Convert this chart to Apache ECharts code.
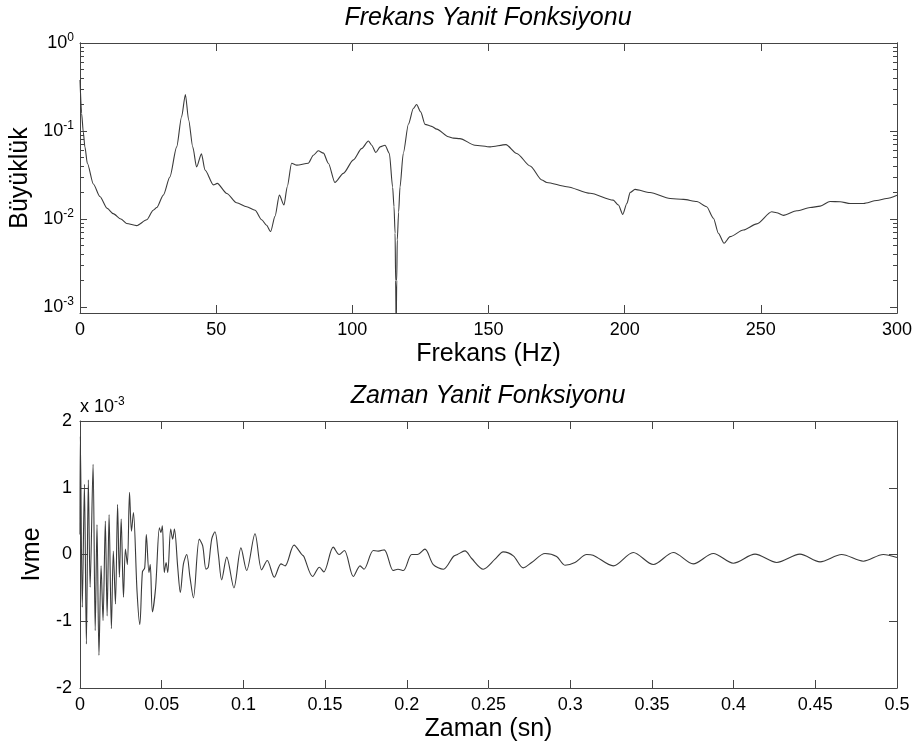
<!DOCTYPE html>
<html>
<head>
<meta charset="utf-8">
<script src="https://cdn.jsdelivr.net/npm/echarts@6/dist/echarts.min.js"></script>
<style>
    html, body { margin: 0; padding: 0; background: #fff; }
    #chart { width: 914px; height: 747px; }
</style>
</head>
<body>
<div id="chart"></div>
<script>
// frekans yaniti (Hz, buyukluk)
const freqHz = [0, 0.6, 1.2, 1.8, 2.7, 4.9, 7.3, 10, 12.2, 15, 17.1, 20.8, 24.5, 26.9, 28.2, 30.6, 33, 35.5, 37.3, 38.7,
    39.9, 41.4, 42.8, 44.6, 45.9, 49, 50.4, 53.9, 57.5, 61.2, 64.3, 66.7, 68.5, 70, 71.6, 73.2, 74.9, 76.1, 77.7, 79.6,
    83.8, 85.7, 87.5, 89.4, 91.2, 93.6, 96.7, 100.4, 103.4, 105.9, 107.1, 108.6, 110.2, 112, 113.6, 114.8, 115.3, 115.7, 115.9, 116.1,
    116.3, 116.5, 117, 117.5, 118.7, 120.6, 122.4, 123.6, 125.1, 126.7, 129.1, 131, 135.3, 137.1, 139.5, 145, 150.6, 156.4, 160.4, 165.3,
    169.6, 171.4, 178.7, 187.3, 195.8, 197.7, 199.3, 200.8, 202, 203.8, 209.3, 216.7, 221.6, 226.5, 230.1, 232.6, 234.4, 236.5, 238.7, 243.6,
    248.5, 254, 255.8, 258.3, 263.2, 268.1, 271.8, 275.4, 279.1, 282.8, 287.7, 292.6, 296.2, 300];
const magnitude = [0.38, 0.158, 0.098, 0.066, 0.043, 0.025, 0.018, 0.0132, 0.0115, 0.0100, 0.0089, 0.0084, 0.0098, 0.0126, 0.0135, 0.0187, 0.030, 0.066, 0.145, 0.26,
    0.133, 0.066, 0.039, 0.055, 0.036, 0.0244, 0.0254, 0.0195, 0.0153, 0.0138, 0.0126, 0.0098, 0.0085, 0.0072, 0.0107, 0.0187, 0.0144, 0.0233, 0.043, 0.041,
    0.043, 0.053, 0.0596, 0.056, 0.043, 0.026, 0.033, 0.047, 0.063, 0.077, 0.069, 0.057, 0.066, 0.069, 0.0556, 0.023, 0.0138, 0.0069, 0.002, 0.0005,
    0.002, 0.0058, 0.012, 0.023, 0.0556, 0.12, 0.18, 0.20, 0.165, 0.119, 0.113, 0.105, 0.086, 0.083, 0.082, 0.069, 0.066, 0.070, 0.0556, 0.040,
    0.0277, 0.026, 0.0233, 0.0196, 0.0164, 0.0144, 0.0113, 0.015, 0.020, 0.0217, 0.020, 0.0171, 0.0167, 0.0158, 0.0138, 0.0102, 0.0069, 0.0053, 0.0063, 0.0075,
    0.0088, 0.0121, 0.0118, 0.011, 0.0124, 0.0135, 0.014, 0.0158, 0.0157, 0.015, 0.015, 0.0162, 0.0171, 0.0186];

// zaman yaniti (sn, ivme x 10^-3)
const timeSec = [0, 0.0002, 0.0014, 0.0027, 0.0039, 0.0051, 0.0062, 0.0080, 0.0093, 0.0104, 0.0116, 0.0129, 0.0141, 0.0155, 0.0166, 0.0178, 0.0192, 0.0204, 0.0217, 0.0230,
    0.0241, 0.0252, 0.0266, 0.0278, 0.0290, 0.0303, 0.0315, 0.0327, 0.0349, 0.0366, 0.0382, 0.0396, 0.0406, 0.0422, 0.0430, 0.0443, 0.0463, 0.0486, 0.0495, 0.0504,
    0.0516, 0.0527, 0.0537, 0.0555, 0.0567, 0.0578, 0.0598, 0.0614, 0.0633, 0.0653, 0.0673, 0.0694, 0.0730, 0.0751, 0.0771, 0.0785, 0.0806, 0.0826, 0.0847, 0.0867,
    0.0898, 0.0942, 0.0985, 0.1020, 0.1071, 0.1112, 0.1146, 0.1189, 0.1230, 0.1255, 0.1310, 0.1357, 0.1370, 0.1424, 0.1465, 0.1492, 0.1550, 0.1586, 0.1618, 0.1673,
    0.1714, 0.1738, 0.1795, 0.1825, 0.1862, 0.1917, 0.1946, 0.1979, 0.2030, 0.2065, 0.2111, 0.2162, 0.2224, 0.2285, 0.2310, 0.2356, 0.2397, 0.2468, 0.2540, 0.2590,
    0.2652, 0.2713, 0.2764, 0.2846, 0.2917, 0.2968, 0.3029, 0.3101, 0.3140, 0.3264, 0.3386, 0.3509, 0.3631, 0.3753, 0.3876, 0.3998, 0.4131, 0.4264, 0.4406, 0.4529,
    0.4661, 0.4794, 0.4916, 0.5];
const accel = [0.3, 1.77, -0.79, 1.05, -1.34, 1.12, -0.49, 1.35, -1.14, 0.45, -1.51, -0.17, -0.99, 0.50, -0.92, 0.60, -1.11, 0.05, -0.74, 0.75,
    -0.34, 0.53, -0.64, 0.08, -0.15, 0.93, 0.35, 0.63, -0.55, -1.05, -0.26, -0.20, 0.30, -0.27, -0.15, -0.86, -0.49, 0.40, 0.33, 0.43,
    -0.27, -0.12, -0.27, 0.38, 0.23, 0.38, -0.19, -0.57, -0.14, 0.0, -0.34, -0.65, 0.23, 0.13, -0.22, -0.19, 0.23, 0.34, 0.0, -0.38,
    -0.04, -0.50, 0.10, -0.24, 0.31, -0.23, -0.09, -0.34, -0.14, -0.17, 0.14, 0.0, -0.03, -0.33, -0.19, -0.26, 0.11, 0.0, 0.06, -0.33,
    -0.17, -0.22, 0.06, 0.05, 0.07, -0.24, -0.22, -0.24, 0.0, 0.0, 0.08, -0.15, -0.22, -0.03, 0.0, 0.055, -0.06, -0.22, -0.07, 0.04,
    -0.02, -0.20, -0.12, 0.015, -0.03, -0.16, -0.12, 0.0, -0.01, -0.17, 0.03, -0.15, 0.03, -0.14, 0.015, -0.13, 0.005, -0.12, 0.005, -0.11,
    0.0, -0.10, 0.0, -0.045];

// eksen isaretleri
const logMajorTicks = [0.001, 0.01, 0.1, 1];
const logMinorTicks = [0.002, 0.003, 0.004, 0.005, 0.006, 0.007, 0.008, 0.009,
    0.02, 0.03, 0.04, 0.05, 0.06, 0.07, 0.08, 0.09,
    0.2, 0.3, 0.4, 0.5, 0.6, 0.7, 0.8, 0.9];

let chart = echarts.init(document.getElementById('chart'));
let font = 'Liberation Sans, Arial, Helvetica, sans-serif';
let axisColor = '#444';

function logLabel(v) {
    return '10{sup|' + Math.round(Math.log10(v)) + '}';
}

function frameX(gridIndex, pos, min, max, interval, name) {
    return {
        gridIndex: gridIndex, type: 'value', position: pos,
        min: min, max: max, interval: interval,
        axisLine: {show: true, onZero: false, lineStyle: {color: axisColor, width: 1}},
        axisTick: {show: true, inside: true, length: 8, lineStyle: {color: axisColor}},
        axisLabel: {show: pos === 'bottom', color: '#000', fontSize: 18, fontFamily: font, margin: 8},
        splitLine: {show: false},
        name: pos === 'bottom' ? name : '',
        nameLocation: 'middle', nameGap: 29,
        nameTextStyle: {fontSize: 25, fontFamily: font, color: '#000'}
    };
}

function logY(pos, ticks, len, labels) {
    return {
        gridIndex: 0, type: 'log', logBase: 10, position: pos,
        min: 0.000855, max: 1,
        axisLine: {show: true, onZero: false, lineStyle: {color: axisColor, width: 1}},
        axisTick: {show: true, inside: true, length: len, customValues: ticks, lineStyle: {color: axisColor}},
        axisLabel: {
            show: labels, customValues: ticks, formatter: logLabel,
            color: '#000', fontSize: 18, fontFamily: font, margin: 6,
            rich: {sup: {fontSize: 12, fontFamily: font, color: '#000', verticalAlign: 'bottom', padding: [0, 0, 10, 0]}}
        },
        splitLine: {show: false},
        minorTick: {show: false},
        name: labels ? 'Büyüklük' : '',
        nameLocation: 'middle', nameGap: 42,
        nameTextStyle: {fontSize: 25, fontFamily: font, color: '#000'}
    };
}

let option = {
    animation: false,
    backgroundColor: '#fff',
    title: [{
        text: 'Frekans Yanit Fonksiyonu', left: 488, top: 6, textAlign: 'center', padding: 0,
        textStyle: {fontSize: 25, fontStyle: 'italic', fontWeight: 'normal', fontFamily: font, color: '#000'}
    }, {
        text: 'Zaman Yanit Fonksiyonu', left: 488, top: 384, textAlign: 'center', padding: 0,
        textStyle: {fontSize: 25, fontStyle: 'italic', fontWeight: 'normal', fontFamily: font, color: '#000'}
    }],
    grid: [
        {left: 80, top: 43, width: 817, height: 270, outerBoundsMode: 'none', containLabel: false},
        {left: 80, top: 421, width: 817, height: 267, outerBoundsMode: 'none', containLabel: false}
    ],
    xAxis: [
        frameX(0, 'bottom', 0, 300, 50, 'Frekans (Hz)'),
        frameX(0, 'top', 0, 300, 50, ''),
        frameX(1, 'bottom', 0, 0.5, 0.05, 'Zaman (sn)'),
        frameX(1, 'top', 0, 0.5, 0.05, '')
    ],
    yAxis: [
        logY('left', logMajorTicks, 7, true),
        logY('left', logMinorTicks, 4, false),
        logY('right', logMajorTicks, 7, false),
        logY('right', logMinorTicks, 4, false),
        {
            gridIndex: 1, type: 'value', position: 'left', min: -2, max: 2, interval: 1,
            axisLine: {show: true, onZero: false, lineStyle: {color: axisColor, width: 1}},
            axisTick: {show: true, inside: true, length: 8, lineStyle: {color: axisColor}},
            axisLabel: {color: '#000', fontSize: 18, fontFamily: font, margin: 8},
            splitLine: {show: false},
            name: 'Ivme', nameLocation: 'middle', nameGap: 33,
            nameTextStyle: {fontSize: 25, fontFamily: font, color: '#000'}
        },
        {
            gridIndex: 1, type: 'value', position: 'right', min: -2, max: 2, interval: 1,
            axisLine: {show: true, onZero: false, lineStyle: {color: axisColor, width: 1}},
            axisTick: {show: true, inside: true, length: 8, lineStyle: {color: axisColor}},
            axisLabel: {show: false},
            splitLine: {show: false}
        }
    ],
    graphic: [{
        type: 'text',
        style: {
            x: 80, y: 407, text: 'x 10{sup|-3}', verticalAlign: 'middle', align: 'left',
            fontSize: 18, fontFamily: font, fill: '#000',
            rich: {sup: {fontSize: 12, fontFamily: font, fill: '#000', verticalAlign: 'bottom', padding: [0, 0, 10, 0]}}
        }
    }],
    series: [{
        name: 'Frekans', type: 'line', xAxisIndex: 0, yAxisIndex: 0,
        data: freqHz.map(function (f, i) { return [f, magnitude[i]]; }),
        symbol: 'none', clip: true, smooth: 0.25, smoothMonotone: 'x',
        lineStyle: {color: '#3a3a3a', width: 1.1}
    }, {
        name: 'Zaman', type: 'line', xAxisIndex: 2, yAxisIndex: 4,
        data: timeSec.map(function (t, i) { return [t, accel[i]]; }),
        symbol: 'none', smooth: 0.3, clip: true,
        lineStyle: {color: '#3a3a3a', width: 1.1}
    }]
};
chart.setOption(option);
</script>
</body>
</html>
